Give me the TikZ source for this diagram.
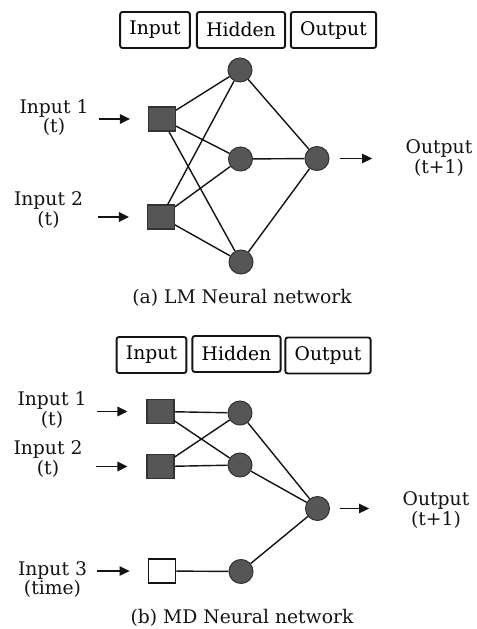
\documentclass[tikz,border=0pt]{standalone}
\usepackage{fontspec}
\setmainfont{DejaVu Serif}
\usepackage{tikz}
\usetikzlibrary{arrows.meta,positioning}
\definecolor{ink}{HTML}{141414}
\definecolor{unit}{HTML}{565656}
\definecolor{rim}{HTML}{333333}
\tikzset{
  layer/.style={draw=ink, line width=1.6pt, rounded corners=2pt, minimum height=1.08cm, inner xsep=0.28cm, font=\fontsize{16}{17}\selectfont},
  insq/.style={rectangle, draw=rim, fill=unit, line width=0.9pt, minimum width=0.81cm, minimum height=0.72cm},
  tsq/.style={rectangle, draw=ink, fill=white, line width=1.5pt, minimum width=0.81cm, minimum height=0.72cm},
  hid/.style={circle, draw=rim, fill=unit, line width=0.9pt, minimum size=0.72cm, inner sep=0pt},
  lab/.style={text=ink, align=center, inner sep=0pt, font=\fontsize{16}{17}\selectfont},
  netcap/.style={text=ink, font=\fontsize{16}{17}\selectfont},
  wire/.style={draw=ink, line width=1.2pt},
  feed/.style={draw=ink, line width=1.4pt, -{Triangle[length=0.3cm, width=0.28cm]}},
}
\begin{document}
\begin{tikzpicture}[x=0.03cm, y=-0.03cm]
\useasboundingbox (0,0) rectangle (476,629);
% (a)
\node[layer] (ain) at (155,30) {Input};
\node[layer] (ahid) at (241,30) {Hidden};
\node[layer] (aout) at (333.5,30) {Output};
\node[insq] (a1) at (162,119) {};
\node[insq] (a2) at (161,217) {};
\node[hid] (ah1) at (240,70) {};
\node[hid] (ah2) at (240.5,159) {};
\node[hid] (ah3) at (241,262) {};
\node[hid] (ao) at (317,158.5) {};
\node[lab] (la1) at (54,117.5) {Input 1\\(t)};
\node[lab] (la2) at (48.5,210) {Input 2\\(t)};
\node[lab] (lao) at (439,158) {Output\\(t+1)};
\node[netcap] (capa) at (242,298) {(a) LM Neural network};
\foreach \s in {a1,a2}
  \foreach \h in {ah1,ah2,ah3}
    \draw[wire] (\s) -- (\h);
\foreach \h in {ah1,ah2,ah3}
  \draw[wire] (\h) -- (ao);
\draw[feed, shorten <=0.3cm, shorten >=0.54cm] (la1.east |- a1) -- (a1.west);
\draw[feed, shorten <=0.45cm, shorten >=0.54cm] (la2.east |- a2) -- (a2.west);
\draw[feed, shorten <=0.3cm, shorten >=1.0cm] (ao) -- (lao.west |- ao);
% (b)
\node[layer] (bin) at (151.5,355) {Input};
\node[layer] (bhid) at (236.5,354) {Hidden};
\node[layer] (bout) at (328,355.5) {Output};
\node[insq] (b1) at (160.5,411.5) {};
\node[insq] (b2) at (160.5,466.5) {};
\node[tsq] (b3) at (162,571) {};
\node[hid] (bh1) at (240,413) {};
\node[hid] (bh2) at (240,465) {};
\node[hid] (bh3) at (241,571.5) {};
\node[hid] (bo) at (317.5,508.5) {};
\node[lab] (lb1) at (52,410) {Input 1\\(t)};
\node[lab] (lb2) at (48,459) {Input 2\\(t)};
\node[lab] (lb3) at (52.5,579.5) {Input 3\\(time)};
\node[lab] (lbo) at (436,510) {Output\\(t+1)};
\node[netcap] (capb) at (242,618) {(b) MD Neural network};
\foreach \s in {b1,b2}
  \foreach \h in {bh1,bh2}
    \draw[wire] (\s) -- (\h);
\draw[wire] (b3) -- (bh3);
\foreach \h in {bh1,bh2,bh3}
  \draw[wire] (\h) -- (bo);
\draw[feed, shorten <=0.3cm, shorten >=0.57cm] (lb1.east |- b1) -- (b1.west);
\draw[feed, shorten <=0.4cm, shorten >=0.57cm] (lb2.east |- b2) -- (b2.west);
\draw[feed, shorten <=0.3cm, shorten >=0.54cm] (lb3.east |- b3) -- (b3.west);
\draw[feed, shorten <=0.3cm, shorten >=1.0cm] (bo) -- (lbo.west |- bo);
\end{tikzpicture}
\end{document}
